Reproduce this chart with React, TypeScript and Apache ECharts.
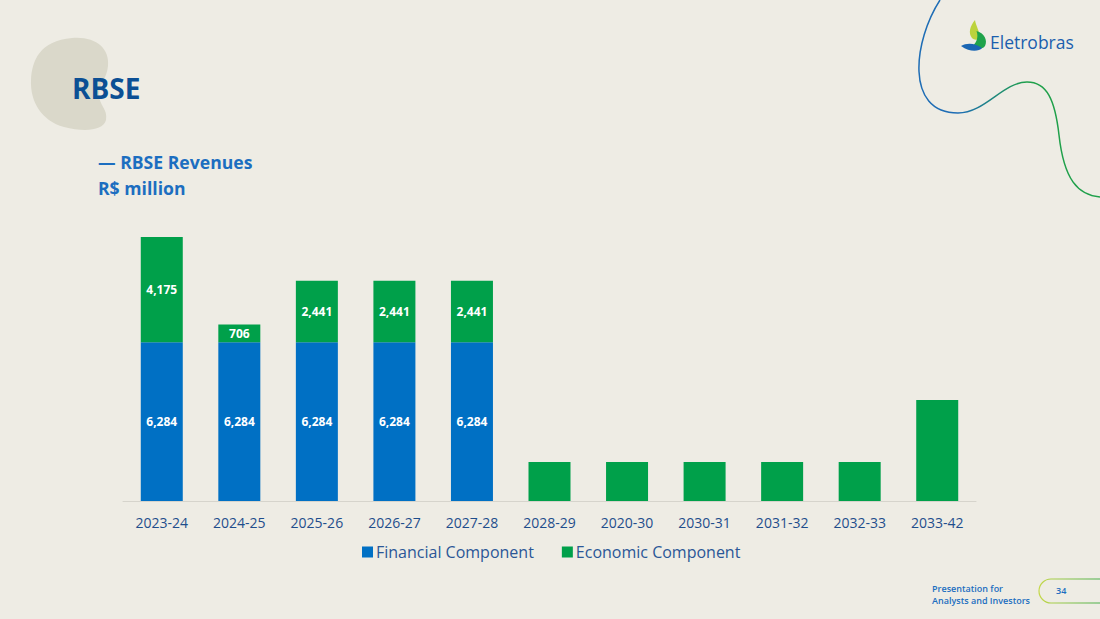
import React, { useEffect, useRef } from "react";
import * as echarts from "echarts";

const categories = ["2023-24", "2024-25", "2025-26", "2026-27", "2027-28", "2028-29", "2020-30", "2030-31", "2031-32", "2032-33", "2033-42"];
const financial = [6284, 6284, 6284, 6284, 6284, null, null, null, null, null, null];
const economic = [4175, 706, 2441, 2441, 2441, 1545, 1545, 1545, 1545, 1545, 4000];
const economicLabelShown = [true, true, true, true, true, false, false, false, false, false, false];
const seriesNames = ["Financial Component", "Economic Component"];

const BLUE = "#0070C4";
const GREEN = "#00A04A";
const BG = "#EEECE4";
const FONT = "'Open Sans', 'Noto Sans', sans-serif";

const fmt = (v: number) => v.toLocaleString("en-US");

let registered = false;
function registerShapes() {
  if (registered) return;
  registered = true;
  const blob =
    "M72,38 C95,36 110,48 108,66 C107,78 99,85 99,95 C99,105 108,109 106,120 C103,131 84,132 64,127 C42,121 30,102 31,80 C32,60 40,41 72,38 Z";
  echarts.graphic.registerShape("blob", echarts.graphic.extendPath(blob, {}) as any);
  const leafY = "M975,20 C970,26 968,33 972,38 C975,41 980,40 979.5,35 C979,30 976,26 975,20 Z";
  const leafG = "M976.5,31 C984,33 988,40 985,46 C982,50 975,50 971,47 C976,44 979,38 976.5,31 Z";
  const leafB = "M961,46 C967,42.5 975,43 982,48 C979,51.5 970,52.5 961,46 Z";
  echarts.graphic.registerShape("leafY", echarts.graphic.extendPath(leafY, {}) as any);
  echarts.graphic.registerShape("leafG", echarts.graphic.extendPath(leafG, {}) as any);
  echarts.graphic.registerShape("leafB", echarts.graphic.extendPath(leafB, {}) as any);
}

export default function App() {
  const ref = useRef<HTMLDivElement>(null);
  useEffect(() => {
    if (!ref.current) return;
    registerShapes();
    const chart = echarts.init(ref.current, null, { renderer: "svg" });
    const option: any = {
      animation: false,
      backgroundColor: BG,
      textStyle: { fontFamily: FONT },
      grid: { left: 123, right: 124, top: 198, bottom: 118, containLabel: false },
      legend: {
        data: seriesNames,
        left: 357,
        top: 539,
        itemWidth: 11,
        itemHeight: 11,
        itemGap: 28,
        icon: "rect",
        textStyle: { color: "#2B5797", fontSize: 16, fontFamily: FONT, padding: [0, 0, 0, -2] },
      },
      xAxis: {
        type: "category",
        data: categories,
        axisLine: { lineStyle: { color: "#D6D4CC", width: 1 } },
        axisTick: { show: false },
        axisLabel: { color: "#1F4E8C", fontSize: 14, margin: 14, fontFamily: FONT },
      },
      yAxis: {
        type: "value",
        min: 0,
        max: 12000,
        show: false,
        splitLine: { show: false },
      },
      series: [
        {
          name: seriesNames[0],
          type: "bar",
          stack: "total",
          barWidth: 42,
          itemStyle: { color: BLUE },
          data: financial,
          label: {
            show: true,
            position: "inside",
            color: "#fff",
            fontWeight: "bold",
            fontSize: 12,
            fontFamily: FONT,
            formatter: (p: any) => fmt(p.value),
          },
        },
        {
          name: seriesNames[1],
          type: "bar",
          stack: "total",
          barWidth: 42,
          itemStyle: { color: GREEN },
          data: economic,
          label: {
            show: true,
            position: "inside",
            color: "#fff",
            fontWeight: "bold",
            fontSize: 12,
            fontFamily: FONT,
            formatter: (p: any) => (economicLabelShown[p.dataIndex] ? fmt(p.value) : ""),
          },
        },
      ],
      graphic: [
        { type: "blob", x: 0, y: 0, z: 0, style: { fill: "#DAD8CA" } },
        {
          type: "text",
          left: 72,
          top: 74,
          style: { text: "RBSE", fill: "#0B4F94", font: `bold 28px ${FONT}` },
        },
        {
          type: "text",
          left: 98,
          top: 153,
          style: { text: "— RBSE Revenues", fill: "#1C6EC0", font: `bold 17.6px ${FONT}` },
        },
        {
          type: "text",
          left: 98,
          top: 179,
          style: { text: "R$ million", fill: "#1C6EC0", font: `bold 17.6px ${FONT}` },
        },
        // decorative curve
        {
          type: "bezierCurve",
          shape: { x1: 940, y1: 0, cpx1: 914, cpy1: 40, cpx2: 904, cpy2: 113, x2: 958, y2: 113 },
          style: { stroke: "#1E6DB5", lineWidth: 1.5, fill: "none" },
        },
        {
          type: "bezierCurve",
          shape: { x1: 958, y1: 113, cpx1: 985, cpy1: 113, cpx2: 1003, cpy2: 82, x2: 1027, y2: 82 },
          style: {
            stroke: new echarts.graphic.LinearGradient(0, 0, 1, 0, [
              { offset: 0, color: "#1E6DB5" },
              { offset: 1, color: "#1FA04A" },
            ]),
            lineWidth: 1.5,
            fill: "none",
          },
        },
        {
          type: "bezierCurve",
          shape: { x1: 1027, y1: 82, cpx1: 1047, cpy1: 82, cpx2: 1055, cpy2: 100, x2: 1059, y2: 135 },
          style: { stroke: "#1FA04A", lineWidth: 1.5, fill: "none" },
        },
        {
          type: "bezierCurve",
          shape: { x1: 1059, y1: 135, cpx1: 1064, cpy1: 180, cpx2: 1078, cpy2: 195, x2: 1100, y2: 197 },
          style: { stroke: "#1FA04A", lineWidth: 1.5, fill: "none" },
        },
        // logo icon
        { type: "leafY", x: 0, y: 0, style: { fill: "#BCD33C" } },
        { type: "leafG", x: 0, y: 0, style: { fill: "#1FA34A" } },
        { type: "leafB", x: 0, y: 0, style: { fill: "#1A66B3" } },
        {
          type: "text",
          left: 990,
          top: 33,
          style: { text: "Eletrobras", fill: "#1B5FAE", font: `17.5px ${FONT}` },
        },
        // footer
        {
          type: "text",
          right: 70,
          top: 582,
          style: {
            text: "Presentation for\nAnalysts and Investors",
            fill: "#1C6EC0",
            font: `600 9px ${FONT}`,
            align: "right",
            lineHeight: 12,
          },
        },
        {
          type: "rect",
          shape: { x: 1039, y: 579, width: 80, height: 24, r: 12 },
          style: {
            fill: "none",
            stroke: new echarts.graphic.LinearGradient(0, 0, 1, 0, [
              { offset: 0, color: "#C5D84A" },
              { offset: 1, color: "#1FA04A" },
            ]),
            lineWidth: 1.2,
          },
        },
        {
          type: "text",
          left: 1056,
          top: 586,
          style: { text: "34", fill: "#1C6EC0", font: `600 9px ${FONT}` },
        },
      ],
    };
    chart.setOption(option);
    return () => chart.dispose();
  }, []);
  return (
    <div
      ref={ref}
      style={{ position: "fixed", left: 0, top: 0, width: 1100, height: 619 }}
    />
  );
}
